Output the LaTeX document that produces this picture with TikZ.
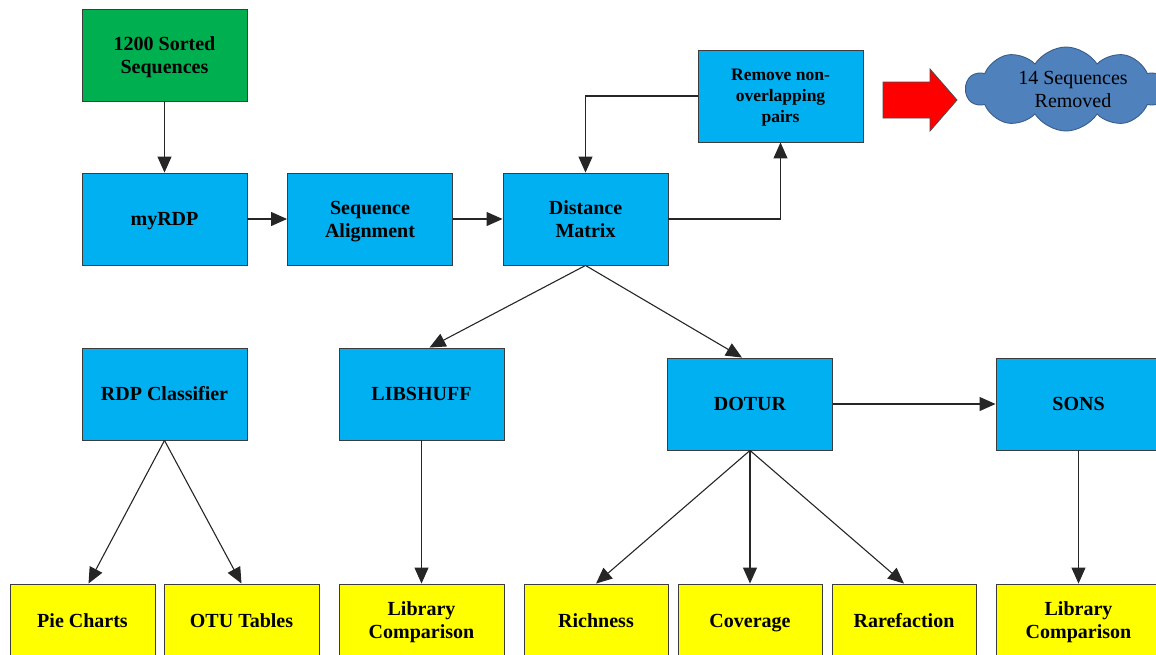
\documentclass[tikz,border=0pt]{standalone}
\usepackage{fontspec}
\setmainfont{Liberation Serif}
\usetikzlibrary{
  arrows.meta,
  positioning,
  shapes.symbols
}
\definecolor{skyblue}{RGB}{0,176,240}
\definecolor{leafgreen}{RGB}{0,176,80}
\definecolor{lemon}{RGB}{255,255,0}
\definecolor{cloudblue}{RGB}{79,129,189}
\definecolor{cloudedge}{RGB}{56,93,138}
\definecolor{edgegray}{RGB}{60,60,60}
% line box like the slide: full ascent and descent of the font
\newcommand{\boxstrut}{\rule[-0.216em]{0pt}{1.107em}}

\tikzset{
  box/.style={draw=edgegray, line width=0.9pt, minimum width=165pt, minimum height=92pt,
    inner sep=0pt, align=center, font=\fontsize{20}{23}\selectfont\bfseries},
  stage/.style={box, fill=skyblue},
  result/.style={box, fill=lemon, minimum height=73pt},
  link/.style={draw=black!85, line width=1.1pt, -{Triangle[length=16pt,width=14pt]}}
}

\begin{document}
\begin{tikzpicture}[x=1pt,y=-1pt]
  \useasboundingbox (0,0) rectangle (1156,654);

  % input and first row
  \node[box, fill=leafgreen] (seqs) at (164.5,55) {\boxstrut 1200 Sorted\\Sequences\boxstrut};
  \node[stage] (myrdp) at (164.5,219) {\boxstrut myRDP\boxstrut};
  \node[stage] (align) at (370,219) {\boxstrut Sequence\\Alignment\boxstrut};
  \node[stage] (dist) at (585.5,219) {\boxstrut Distance\\Matrix\boxstrut};
  \node[stage, font=\fontsize{17.5}{21}\selectfont\bfseries] (trim) at (780.5,96)
    {\boxstrut Remove non-\\overlapping\\pairs\boxstrut};

  % removed sequences
  \draw[draw=black!70, fill=red, line width=0.8pt, line join=miter]
    (883,82) -- (930,82) -- (930,69) -- (957,100) -- (930,131) -- (930,118)
    -- (883,118) -- cycle;
  \node[cloud, draw=cloudedge, fill=cloudblue, line width=0.9pt, cloud puffs=10,
    cloud puff arc=115, cloud ignores aspect, minimum width=200pt, minimum height=84pt,
    inner sep=0pt, align=center, font=\fontsize{20}{23}\selectfont] (gone) at (1066,89)
    {\hspace*{14pt}14 Sequences\\\hspace*{14pt}Removed};

  % analysis programs
  \node[stage] (rdpcls) at (164.5,394) {\boxstrut RDP Classifier\boxstrut};
  \node[stage] (libshuff) at (421.5,394) {\boxstrut LIBSHUFF\boxstrut};
  \node[stage] (dotur) at (750,404) {\boxstrut DOTUR\boxstrut};
  \node[stage] (sons) at (1078.5,404) {\boxstrut SONS\boxstrut};

  % outputs
  \node[result, minimum width=145pt] (pie) at (82.5,620.5) {\boxstrut Pie Charts\boxstrut};
  \node[result, minimum width=155pt] (otu) at (241.5,620.5) {\boxstrut OTU Tables\boxstrut};
  \node[result] (libcmpa) at (421.5,620.5) {\boxstrut Library\\Comparison\boxstrut};
  \node[result, minimum width=144pt] (rich) at (596,620.5) {\boxstrut Richness\boxstrut};
  \node[result, minimum width=144pt] (cover) at (750,620.5) {\boxstrut Coverage\boxstrut};
  \node[result, minimum width=144pt] (raref) at (904,620.5) {\boxstrut Rarefaction\boxstrut};
  \node[result] (libcmpb) at (1078.5,620.5) {\boxstrut Library\\Comparison\boxstrut};

  % connectors
  \draw[link] (seqs) -- (myrdp);
  \draw[link] (myrdp) -- (align);
  \draw[link] (align) -- (dist);
  \draw[link] (dist.east) -| (trim.south);
  \draw[link] (trim.west) -| (dist.north);
  \draw[link] (dist.south) -- ([xshift=8pt]libshuff.north);
  \draw[link] (dist.south) -- ([xshift=-8pt]dotur.north);
  \draw[link] (dotur) -- (sons);
  \draw[link] (rdpcls.south) -- ([xshift=6pt]pie.north);
  \draw[link] (rdpcls.south) -- (otu.north);
  \draw[link] (libshuff) -- (libcmpa);
  \draw[link] (dotur.south) -- (rich.north);
  \draw[link] (dotur) -- (cover);
  \draw[link] (dotur.south) -- (raref.north);
  \draw[link] (sons) -- (libcmpb);

\end{tikzpicture}
\end{document}
